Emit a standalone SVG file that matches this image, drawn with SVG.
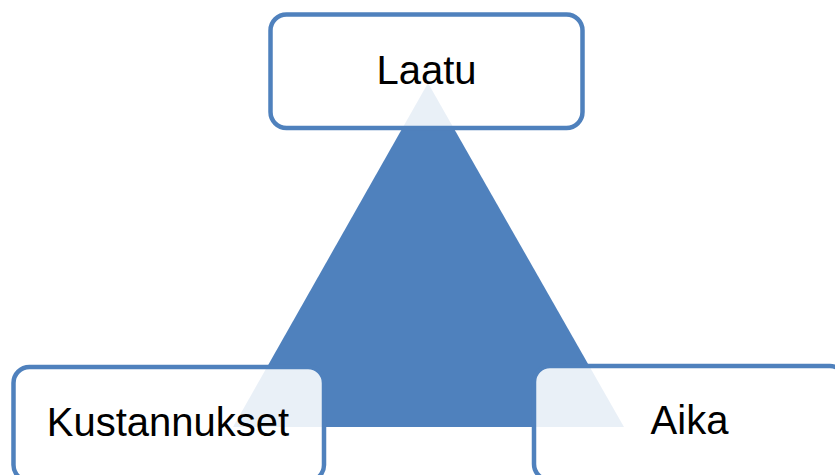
<svg xmlns="http://www.w3.org/2000/svg" width="835" height="475" viewBox="0 0 835 475">
  <style>
    .box { fill: #ffffff; fill-opacity: 0.88; stroke: #4f81bd; stroke-width: 4.5; }
    .label { font-family: "Liberation Sans", Arial, sans-serif; font-size: 40px; fill: #000000; text-anchor: middle; }
  </style>
  <rect width="835" height="475" fill="#ffffff"/>
  <!-- central triangle -->
  <g id="triangle">
    <polygon points="428,83 233,427 624,427" fill="#4f81bd"/>
  </g>
  <g id="connectors"></g>
  <g id="node-laatu">
    <rect class="box" x="270.5" y="14.5" width="312" height="113.5" rx="16" ry="16"/>
    <text class="label" x="426.5" y="83.5">Laatu</text>
  </g>
  <g id="node-kustannukset">
    <rect class="box" x="13.5" y="367" width="310.5" height="114" rx="16" ry="16"/>
    <text class="label" x="168" y="435.5">Kustannukset</text>
  </g>
  <g id="node-aika">
    <rect class="box" x="534" y="366" width="312" height="114" rx="16" ry="16"/>
    <text class="label" x="689.5" y="434">Aika</text>
  </g>
</svg>
